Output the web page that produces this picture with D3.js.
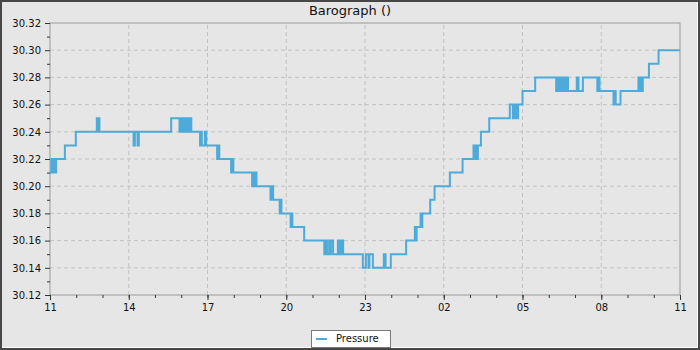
<!DOCTYPE html>
<html>
<head>
<meta charset="utf-8">
<script src="https://cdn.jsdelivr.net/npm/d3@7"></script>
<style>
  body { margin: 0; background: #e6e6e6; }
  svg { display: block; font-family: "DejaVu Sans", sans-serif; }
</style>
</head>
<body>
<div id="chart"></div>
<script>
const chartTitle = "Barograph ()";
const seriesName = "Pressure";
// minutes after 11:00, value at each step change
const minutes = [0, 3, 6, 9, 11, 14, 34, 59, 107, 109, 110, 113, 191, 194, 200, 203,
  277, 296, 299, 303, 306, 310, 313, 317, 320, 323, 343, 345, 347, 354, 357,
  382, 385, 387, 414, 417, 419, 462, 465, 467, 470, 472, 504, 507, 510,
  525, 527, 529, 550, 552, 554, 581, 627, 631, 633, 638, 640, 642, 647,
  658, 662, 666, 670, 715, 722, 728, 730, 738, 763, 767, 779, 814, 834, 835, 838,
  847, 849, 851, 869, 879, 914, 943, 968, 970, 973, 975, 978, 985, 1004,
  1051, 1058, 1061, 1063, 1066, 1069, 1070, 1080, 1109, 1157, 1159, 1163, 1166,
  1169, 1171, 1175, 1177, 1179, 1182, 1184, 1204, 1208, 1218, 1251, 1254, 1256,
  1288, 1290, 1293, 1304, 1345, 1347, 1350, 1352, 1355, 1369, 1391, 1440];
const pressure = [30.21, 30.22, 30.21, 30.22, 30.21, 30.22, 30.23, 30.24, 30.25, 30.24, 30.25, 30.24, 30.23, 30.24, 30.23, 30.24,
  30.25, 30.24, 30.25, 30.24, 30.25, 30.24, 30.25, 30.24, 30.25, 30.24, 30.23, 30.24, 30.23, 30.24, 30.23,
  30.22, 30.23, 30.22, 30.21, 30.22, 30.21, 30.20, 30.21, 30.20, 30.21, 30.20, 30.19, 30.20, 30.19,
  30.18, 30.19, 30.18, 30.17, 30.18, 30.17, 30.16, 30.15, 30.16, 30.15, 30.16, 30.15, 30.16, 30.15,
  30.16, 30.15, 30.16, 30.15, 30.14, 30.15, 30.14, 30.15, 30.14, 30.15, 30.14, 30.15, 30.16, 30.17, 30.16, 30.17,
  30.18, 30.17, 30.18, 30.19, 30.20, 30.21, 30.22, 30.23, 30.22, 30.23, 30.22, 30.23, 30.24, 30.25,
  30.26, 30.25, 30.26, 30.25, 30.26, 30.25, 30.26, 30.27, 30.28, 30.27, 30.28, 30.27, 30.28,
  30.27, 30.28, 30.27, 30.28, 30.27, 30.28, 30.27, 30.28, 30.27, 30.28, 30.27, 30.28, 30.27,
  30.26, 30.27, 30.26, 30.27, 30.28, 30.27, 30.28, 30.27, 30.28, 30.29, 30.30, 30.30];
const yTicks = [30.12, 30.14, 30.16, 30.18, 30.20, 30.22, 30.24, 30.26, 30.28, 30.30, 30.32];
const yMinorTicks = [30.13, 30.15, 30.17, 30.19, 30.21, 30.23, 30.25, 30.27, 30.29, 30.31];
const xTickHours = [0, 3, 6, 9, 12, 15, 18, 21, 24];

const width = 700, height = 350;
const margin = {left: 50, right: 20, top: 23, bottom: 55};
const lineColor = "#4eaad8";
const gridColor = "#c2c2c2";
const frameColor = "#9a9a9a";

const startTime = new Date(2024, 0, 10, 11, 0);

var data = minutes.map(function (m, i) {
    return {t: d3.timeMinute.offset(startTime, m), v: pressure[i]};
});

var svg = d3.select("#chart").append("svg")
    .attr("width", width)
    .attr("height", height);

svg.append("rect")
    .attr("x", 1).attr("y", 1)
    .attr("width", width - 2).attr("height", height - 2)
    .attr("fill", "#e6e6e6")
    .attr("stroke", "#474747")
    .attr("stroke-width", 2);
//light inner edge on right and bottom
svg.append("path")
    .attr("d", "M" + (width - 2.5) + ",2 V" + (height - 2.5) + " H2")
    .attr("fill", "none")
    .attr("stroke", "#ffffff");

var x = d3.scaleTime()
    .domain([startTime, d3.timeHour.offset(startTime, 24)])
    .range([margin.left, width - margin.right]);
var y = d3.scaleLinear()
    .domain([30.12, 30.32])
    .range([height - margin.bottom, margin.top]);

var xMajor = xTickHours.map(function (h) { return d3.timeHour.offset(startTime, h); });
var xMinor = d3.range(0, 25).map(function (h) { return d3.timeHour.offset(startTime, h); });

//grid
svg.append("g").selectAll("line")
    .data(xMajor.slice(1, -1))
    .enter().append("line")
    .attr("x1", function (d) { return x(d); })
    .attr("x2", function (d) { return x(d); })
    .attr("y1", y.range()[0]).attr("y2", y.range()[1])
    .attr("stroke", gridColor)
    .attr("stroke-dasharray", "4,3");
svg.append("g").selectAll("line")
    .data(yTicks.slice(1, -1))
    .enter().append("line")
    .attr("x1", x.range()[0]).attr("x2", x.range()[1])
    .attr("y1", function (d) { return y(d); })
    .attr("y2", function (d) { return y(d); })
    .attr("stroke", gridColor)
    .attr("stroke-dasharray", "4,3");

//frame
svg.append("rect")
    .attr("x", x.range()[0]).attr("y", y.range()[1])
    .attr("width", x.range()[1] - x.range()[0])
    .attr("height", y.range()[0] - y.range()[1])
    .attr("fill", "none")
    .attr("stroke", frameColor);

//axes
var gy = svg.append("g")
    .attr("transform", "translate(" + margin.left + ",0)")
    .call(d3.axisLeft(y).tickValues(yTicks).tickSize(5).tickPadding(4).tickFormat(d3.format(".2f")));
var gyMinor = svg.append("g")
    .attr("transform", "translate(" + margin.left + ",0)")
    .call(d3.axisLeft(y).tickValues(yMinorTicks).tickSize(3).tickFormat(""));
var gx = svg.append("g")
    .attr("transform", "translate(0," + (height - margin.bottom) + ")")
    .call(d3.axisBottom(x).tickValues(xMajor).tickSize(5).tickPadding(4).tickFormat(d3.timeFormat("%H")));
var gxMinor = svg.append("g")
    .attr("transform", "translate(0," + (height - margin.bottom) + ")")
    .call(d3.axisBottom(x).tickValues(xMinor).tickSize(3).tickFormat(""));

[gy, gyMinor, gx, gxMinor].forEach(function (g) {
    g.select(".domain").remove();
    g.selectAll("line").attr("stroke", "#333");
    g.selectAll("text")
        .attr("fill", "#111")
        .style("font-family", "DejaVu Sans")
        .style("font-size", "10px");
});

//series
var line = d3.line()
    .x(function (d) { return x(d.t); })
    .y(function (d) { return y(d.v); })
    .curve(d3.curveStepAfter);

svg.append("path")
    .datum(data)
    .attr("d", line)
    .attr("fill", "none")
    .attr("stroke", lineColor)
    .attr("stroke-width", 2);

//title
svg.append("text")
    .attr("x", width / 2)
    .attr("y", 15)
    .attr("text-anchor", "middle")
    .style("font-size", "13px")
    .attr("fill", "#111")
    .text(chartTitle);

//legend
var legend = svg.append("g").attr("transform", "translate(311,330)");
legend.append("rect")
    .attr("x", 0.5).attr("y", 0.5)
    .attr("width", 79).attr("height", 17)
    .attr("fill", "#ffffff")
    .attr("stroke", "#7a7a7a");
legend.append("line")
    .attr("x1", 5).attr("x2", 16)
    .attr("y1", 9).attr("y2", 9)
    .attr("stroke", lineColor)
    .attr("stroke-width", 2);
legend.append("text")
    .attr("x", 25).attr("y", 12)
    .style("font-size", "10px")
    .attr("fill", "#111")
    .text(seriesName);
</script>
</body>
</html>
